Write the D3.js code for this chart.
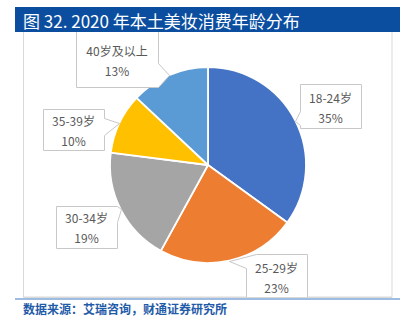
<!DOCTYPE html>
<html><head><meta charset="utf-8">
<script src="https://cdn.jsdelivr.net/npm/d3@7"></script>
<style>
html,body{margin:0;padding:0;background:#fff;}
svg{display:block;}
</style></head>
<body><svg id="c" width="404" height="324"></svg>
<script>
const title = "图 32. 2020 年本土美妆消费年龄分布";
const source = "数据来源：艾瑞咨询，财通证券研究所";
const categories = ["18-24岁", "25-29岁", "30-34岁", "35-39岁", "40岁及以上"];
const values = [35, 23, 19, 10, 13];
const colors = ["#4472C4", "#ED7D31", "#A5A5A5", "#FFC000", "#5B9BD5"];

// callout layout (box edges, text centre)
const callouts = [
  {x0:300, y0:84, x1:361, y1:128, side:"left", b0:111, b1:125, tx:330.5, ty:97},
  {x0:246, y0:254, x1:307, y1:300, side:"corner", b0:256, b1:268, tx:276.5, ty:267},
  {x0:56, y0:206, x1:117, y1:248, side:"right", b0:206, b1:222, tx:86.5, ty:217},
  {x0:43, y0:109, x1:104, y1:150, side:"right", b0:118, b1:135, tx:73.5, ty:120},
  {x0:76, y0:20, x1:158, y1:87, side:"right", b0:63, b1:87, tx:117, ty:50}
];

const svg = d3.select("#c");
const cx = 208, cy = 165, R = 98;

// frame
svg.append("rect").attr("x",23.5).attr("y",30).attr("width",368.5).attr("height",267)
  .attr("fill","#fff").attr("stroke","#d9d9d9").attr("stroke-width",1);

const pie = d3.pie().sort(null).value(d=>d)(values);
const arc = d3.arc().innerRadius(0).outerRadius(R);
const g = svg.append("g").attr("transform",`translate(${cx},${cy})`);
g.selectAll("path").data(pie).join("path")
  .attr("d",arc).attr("fill",(d,i)=>colors[i])
  .attr("stroke","#fff").attr("stroke-width",1.8).attr("stroke-linejoin","round");

// callouts
const font = "'Noto Sans CJK SC','Noto Sans',sans-serif";
pie.forEach((d,i)=>{
  const a = (d.startAngle + d.endAngle)/2;
  const tip = [cx + R*Math.sin(a), cy - R*Math.cos(a)];
  const c = callouts[i];
  let pts;
  if (c.side === "left") {
    pts = [[c.x0,c.y0],[c.x1,c.y0],[c.x1,c.y1],[c.x0,c.y1],[c.x0,c.b1],tip,[c.x0,c.b0]];
  } else if (c.side === "right") {
    pts = [[c.x0,c.y0],[c.x1,c.y0],[c.x1,c.b0],tip,[c.x1,c.b1],[c.x1,c.y1],[c.x0,c.y1]];
  } else {
    pts = [[c.b0,c.y0],[c.x1,c.y0],[c.x1,c.y1],[c.x0,c.y1],[c.x0,c.b1],tip];
  }
  svg.append("path").attr("d", d3.line()(pts.map(p=>[Math.round(p[0])+0.5, Math.round(p[1])+0.5])) + "Z")
    .attr("fill","#fff").attr("stroke","#c8c8c8").attr("stroke-width",1);
  const t = svg.append("text").attr("x",c.tx).attr("y",c.ty)
    .attr("text-anchor","middle").attr("dominant-baseline","central")
    .attr("font-family",font).attr("font-size",12).attr("fill","#595959");
  t.append("tspan").attr("x",c.tx).attr("y",c.ty).text(categories[i]);
  t.append("tspan").attr("x",c.tx).attr("y",c.ty+20).text(values[i]+"%");
});

// cover overflow below frame
svg.append("rect").attr("x",0).attr("y",298).attr("width",404).attr("height",26).attr("fill","#fff");
svg.append("line").attr("x1",23.5).attr("x2",392).attr("y1",297.5).attr("y2",297.5).attr("stroke","#d9d9d9");
svg.append("line").attr("x1",15).attr("x2",400).attr("y1",299).attr("y2",299)
  .attr("stroke","#7FA7D9").attr("stroke-width",1.5);

// title bar
svg.append("rect").attr("x",15).attr("y",7).attr("width",385).attr("height",25).attr("fill","#0B4EA0");
svg.append("text").attr("x",23).attr("y",20).attr("dominant-baseline","central")
  .attr("font-family",font).attr("font-size",17).attr("fill","#fff").text(title);

svg.append("text").attr("x",23).attr("y",308).attr("dominant-baseline","central")
  .attr("font-family",font).attr("font-size",12).attr("font-weight","bold").attr("fill","#1F5BA8").text(source);
</script></body></html>
